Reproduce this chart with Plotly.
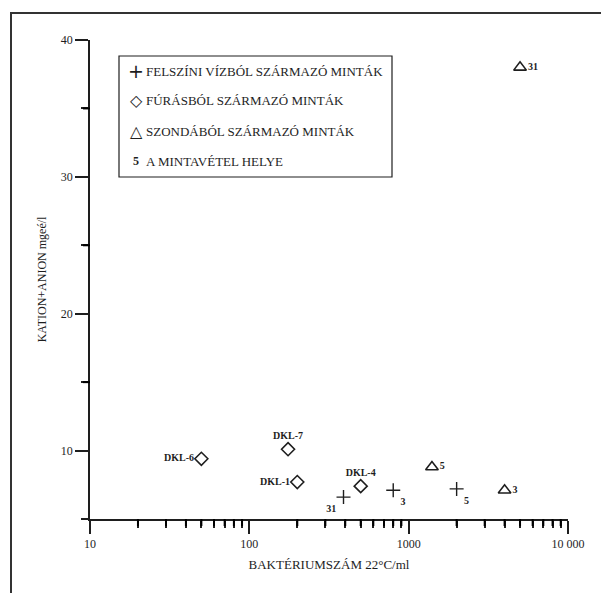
import math
import plotly.graph_objects as go

# ---- data ----
cross_x = [390, 800, 2000]
cross_y = [6.6, 7.1, 7.2]
cross_lbl = ["31", "3", "5"]
cross_pos = ["bottom left", "bottom right", "bottom right"]

diam_x = [50, 175, 200, 500]
diam_y = [9.4, 10.1, 7.7, 7.4]
diam_lbl = ["DKL-6", "DKL-7", "DKL-1", "DKL-4"]
diam_pos = ["middle left", "top center", "middle left", "top center"]

tri_x = [1400, 4000, 5000]
tri_y = [8.8, 7.1, 38.0]
tri_lbl = ["5", "3", "31"]
tri_pos = ["middle right", "middle right", "middle right"]

x_label_alias = {"10k": "10 000"}
x_minor_ticks = [d * m for d in (10, 100, 1000) for m in range(2, 10)]
y_minor_ticks = [15, 25, 35]

legend_items = [
    ("+", "FELSZÍNI VÍZBÓL SZÁRMAZÓ MINTÁK"),
    ("◇", "FÚRÁSBÓL SZÁRMAZÓ MINTÁK"),
    ("△", "SZONDÁBÓL SZÁRMAZÓ MINTÁK"),
    ("<b>5</b>", "A MINTAVÉTEL HELYE"),
]

# ---- layout geometry ----
W, H = 601, 593
L, R, T, B = 90, 33, 40, 74
PW, PH = W - L - R, H - T - B
X_RANGE = [1, 4]  # log10 range
Y_RANGE = [5, 40]


def px(xp):
    return (xp - L) / PW


def py(yp):
    return (H - B - yp) / PH


SERIF = "Liberation Serif"
INK = "#1e1e1e"
lblfont = dict(family=SERIF, size=10, color=INK)

fig = go.Figure()
fig.add_trace(go.Scatter(
    x=cross_x, y=cross_y, mode="markers+text", text=[f"<b>{t}</b>" for t in cross_lbl],
    textposition=cross_pos, textfont=lblfont,
    marker=dict(symbol="cross-thin-open", size=10, line=dict(width=1.4, color=INK), color=INK),
    showlegend=False))
fig.add_trace(go.Scatter(
    x=diam_x, y=diam_y, mode="markers+text", text=[f"<b>{t}</b>" for t in diam_lbl],
    textposition=diam_pos, textfont=lblfont,
    marker=dict(symbol="diamond-open", size=10, line=dict(width=1.6, color=INK), color=INK),
    showlegend=False))
fig.add_trace(go.Scatter(
    x=tri_x, y=tri_y, mode="markers+text", text=[f"<b>{t}</b>" for t in tri_lbl],
    textposition=tri_pos, textfont=lblfont,
    marker=dict(symbol="triangle-up-open", size=11, line=dict(width=1.6, color=INK), color=INK),
    showlegend=False))

shapes = [
    # outer frame (partly cut off by picture edges)
    dict(type="rect", xref="paper", yref="paper", x0=px(11), x1=px(640), y0=py(640), y1=py(13),
         line=dict(color="#333", width=2)),
    # legend box
    dict(type="rect", xref="paper", yref="paper", x0=px(119), x1=px(392), y0=py(177), y1=py(56),
         line=dict(color=INK, width=1.2)),
    # x axis line extends slightly left of y axis
    dict(type="line", xref="paper", yref="paper", x0=px(82), x1=px(90), y0=0, y1=0,
         line=dict(color=INK, width=1.5)),
]
# minor ticks (axis decoration), positioned in paper units from the axis scales
for v in x_minor_ticks:
    f = (math.log10(v) - X_RANGE[0]) / (X_RANGE[1] - X_RANGE[0])
    shapes.append(dict(type="line", xref="paper", yref="paper", x0=f, x1=f,
                       y0=0, y1=py(H - B + 7), layer="above",
                       line=dict(color="#000000", width=2)))
for v in y_minor_ticks:
    f = (v - Y_RANGE[0]) / (Y_RANGE[1] - Y_RANGE[0])
    shapes.append(dict(type="line", xref="paper", yref="paper", x0=px(L - 7), x1=0,
                       y0=f, y1=f, layer="above",
                       line=dict(color="#000000", width=2)))

annotations = []
row_y = [71, 100, 131, 161]
sym_font = [dict(family="DejaVu Sans", size=19, color=INK),
            dict(family="DejaVu Sans", size=16, color=INK),
            dict(family="DejaVu Sans", size=16, color=INK),
            dict(family=SERIF, size=12, color=INK)]
for (sym, txt), yy, sf in zip(legend_items, row_y, sym_font):
    annotations.append(dict(xref="paper", yref="paper", x=px(136), y=py(yy), text=sym,
                            showarrow=False, xanchor="center", yanchor="middle", font=sf))
    annotations.append(dict(xref="paper", yref="paper", x=px(144), y=py(yy), text=txt,
                            showarrow=False, xanchor="left", yanchor="middle",
                            font=dict(family=SERIF, size=13, color=INK)))

fig.update_layout(
    width=W, height=H,
    margin=dict(l=L, r=R, t=T, b=B, autoexpand=False),
    paper_bgcolor="white", plot_bgcolor="white",
    font=dict(family=SERIF, size=12, color=INK),
    shapes=shapes, annotations=annotations,
    xaxis=dict(
        type="log", range=X_RANGE, tickmode="linear", tick0=0, dtick=1,
        labelalias=x_label_alias,
        ticks="outside", ticklen=13, tickwidth=1.5, tickcolor=INK,
        showline=True, linecolor=INK, linewidth=1.5, showgrid=False, zeroline=False,
        minor=dict(ticks="outside", ticklen=7, tickwidth=1.5, tickcolor=INK, showgrid=False),
        tickfont=dict(family=SERIF, size=12, color=INK),
        title=dict(text="BAKTÉRIUMSZÁM 22°C/ml", standoff=10,
                   font=dict(family=SERIF, size=13, color=INK)),
    ),
    yaxis=dict(
        range=Y_RANGE, tickmode="linear", tick0=0, dtick=10,
        ticks="outside", ticklen=13, tickwidth=1.5, tickcolor=INK,
        showline=True, linecolor=INK, linewidth=1.5, showgrid=False, zeroline=False,
        minor=dict(ticks="outside", dtick=5, tick0=0, ticklen=7, tickwidth=1.5,
                   tickcolor=INK, showgrid=False),
        tickfont=dict(family=SERIF, size=12, color=INK),
        title=dict(text="KATION+ANION mgeé/l", standoff=12,
                   font=dict(family=SERIF, size=12, color=INK)),
    ),
)

fig.write_html("out.html")
